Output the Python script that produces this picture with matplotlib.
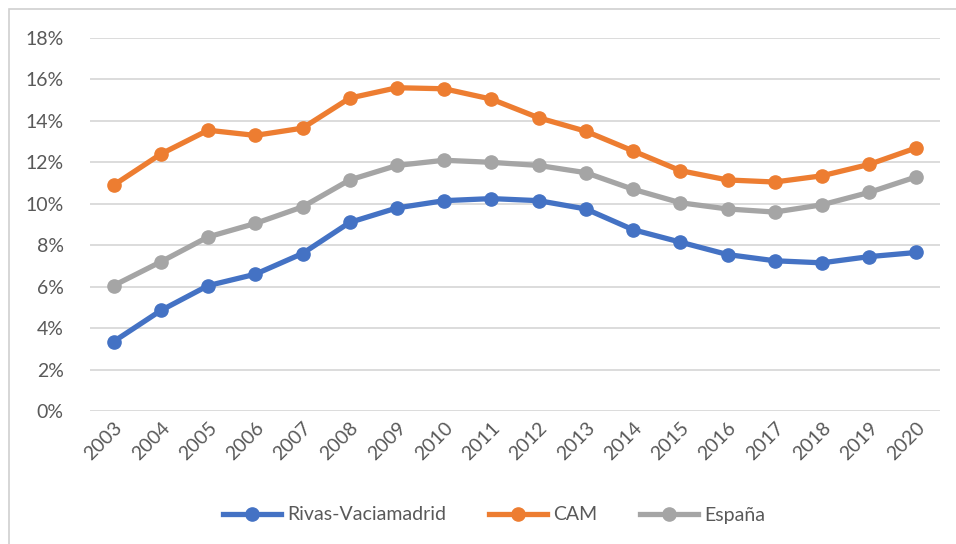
import matplotlib.pyplot as plt
from matplotlib.patches import Rectangle
from matplotlib.ticker import FuncFormatter

years = [str(y) for y in range(2003, 2021)]
rivas = [3.35, 4.85, 6.05, 6.6, 7.6, 9.1, 9.8, 10.15, 10.25, 10.15, 9.75, 8.75, 8.15, 7.55, 7.25, 7.15, 7.45, 7.65]
cam = [10.9, 12.4, 13.55, 13.3, 13.65, 15.1, 15.6, 15.55, 15.05, 14.15, 13.5, 12.55, 11.6, 11.15, 11.05, 11.35, 11.9, 12.7]
espana = [6.05, 7.2, 8.4, 9.05, 9.85, 11.15, 11.85, 12.1, 12.0, 11.85, 11.5, 10.7, 10.05, 9.75, 9.6, 9.95, 10.55, 11.3]

plt.rcParams['font.family'] = ['Lato', 'DejaVu Sans']

fig = plt.figure(figsize=(9.56, 5.44), dpi=100)
ax = fig.add_axes([90 / 956, 1 - 411 / 544, 850 / 956, 373 / 544])

# chart frame (only left/top visible in the original crop)
fig.patches.append(Rectangle((9 / 956, -0.1), 1.2, 1 - 9 / 544 + 0.1, transform=fig.transFigure,
                             fill=False, edgecolor='#d0d0d0', linewidth=1.2))

x = list(range(len(years)))
ax.plot(x, rivas, color='#4472C4', lw=3.8, marker='o', ms=9.5, label='Rivas-Vaciamadrid', zorder=3)
ax.plot(x, cam, color='#ED7D31', lw=3.8, marker='o', ms=9.5, label='CAM', zorder=3)
ax.plot(x, espana, color='#A5A5A5', lw=3.8, marker='o', ms=9.5, label='España', zorder=3)

ax.set_ylim(0, 18)
ax.set_yticks(range(0, 19, 2))
ax.yaxis.set_major_formatter(FuncFormatter(lambda v, p: f'{int(v)}%'))
ax.set_xlim(-0.5, len(years) - 0.5)
ax.set_xticks(x)
ax.set_xticklabels(years, rotation=45, ha='right', rotation_mode='anchor')

ax.grid(axis='y', color='#d9d9d9', lw=1.3)
ax.set_axisbelow(True)
for s in ax.spines.values():
    s.set_visible(False)
ax.tick_params(length=0, labelsize=14, labelcolor='#595959')
ax.tick_params(axis='y', pad=19)
ax.tick_params(axis='x', pad=6)

fig.legend(loc='center', bbox_to_anchor=(494 / 956, 1 - 515 / 544), ncol=3, frameon=False,
           fontsize=14, labelcolor='#595959', handlelength=3, columnspacing=2.2, handletextpad=0.3)

fig.savefig('out.png', dpi=100)
